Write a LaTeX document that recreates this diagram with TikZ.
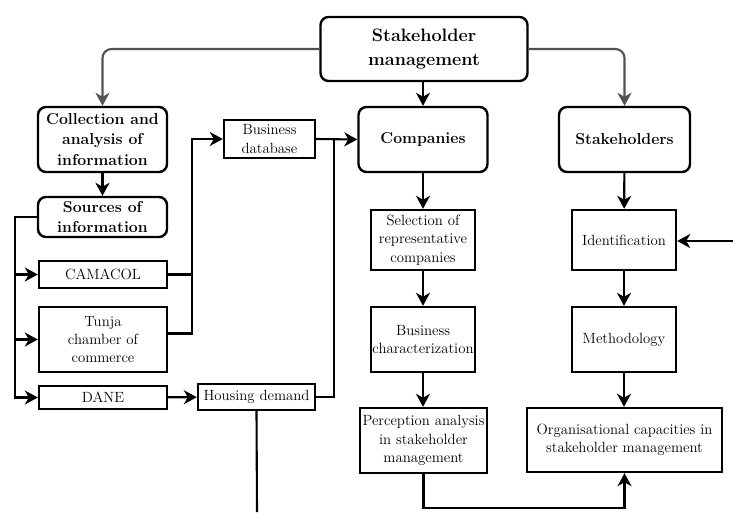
\documentclass[tikz,border=0pt]{standalone}
\usepackage{fontspec}
\usepackage{tikz}
\usetikzlibrary{arrows.meta,positioning,calc}

\begin{document}
\begin{tikzpicture}[x=1pt,y=-1pt,
  box/.style={draw, line width=2.4pt, inner sep=0.3pt, align=center,
    font=\fontsize{14.8}{18.3}\selectfont},
  rbox/.style={box, rounded corners=8pt, font=\fontsize{15.8}{20.7}\selectfont\bfseries},
  conn/.style={line width=2.1pt},
  arr/.style={conn, -{Stealth[length=13pt,width=14pt,inset=4pt]}},
  grayarr/.style={arr, draw=black!68, rounded corners=9pt}]
  \useasboundingbox (0,0) rectangle (733,512);

  % Top level
  \node[rbox, minimum width=207pt, minimum height=64pt, font=\fontsize{18}{23.5}\selectfont\bfseries]
    (sm) at (424,49) {Stakeholder\\management};
  \node[rbox, minimum width=129pt, minimum height=65pt] (coll) at (102.5,139.5) {Collection and\\analysis of\\information};
  \node[rbox, minimum width=129pt, minimum height=65pt] (comp) at (423,139.5) {Companies};
  \node[rbox, minimum width=131pt, minimum height=65pt] (stk) at (624.5,139.5) {Stakeholders};

  % Sources column
  \node[rbox, minimum width=129pt, minimum height=40pt] (src) at (102.5,217) {Sources of\\information};
  \node[box, minimum width=128pt, minimum height=27pt] (cam) at (103,274.5) {CAMACOL};
  \node[box, minimum width=128pt, minimum height=65pt] (tunja) at (103,339.5) {Tunja\\chamber of\\commerce};
  \node[box, minimum width=128pt, minimum height=23pt] (dane) at (103,397.5) {DANE};
  \node[box, minimum width=91pt, minimum height=38pt] (bdb) at (269.5,139) {Business\\database};
  \node[box, minimum width=117pt, minimum height=26pt] (hd) at (256.5,397) {Housing demand};

  % Companies column
  \node[box, minimum width=104pt, minimum height=60pt] (sel) at (423,240) {Selection of\\representative\\companies};
  \node[box, minimum width=104pt, minimum height=65pt] (bchar) at (423,339.5) {Business\\characterization};
  \node[box, minimum width=127pt, minimum height=65pt] (perc) at (423.5,440.5) {Perception analysis\\in stakeholder\\management};

  % Stakeholders column
  \node[box, minimum width=104pt, minimum height=60pt] (ident) at (624,240) {Identification};
  \node[box, minimum width=104pt, minimum height=65pt] (meth) at (624,339.5) {Methodology};
  \node[box, minimum width=195pt, minimum height=64pt] (org) at (624.5,440) {Organisational capacities in\\stakeholder management};

  % Helper points
  \coordinate (lbus) at (15,217);
  \coordinate (vbus) at (192,139);
  \coordinate (rbus) at (334,139);
  \coordinate (hdend) at (257,512);
  \coordinate (inid) at (733,241);

  % Gray branches
  \draw[grayarr] (sm.west) -| (coll.north);
  \draw[grayarr] (sm.east) -| (stk.north);
  \draw[arr] (sm.south -| comp.north) -- (comp.north);

  % Left part
  \draw[arr] (coll) -- (src);
  \draw[arr] (src.west) -- (lbus) |- (dane.west);
  \draw[arr] (lbus |- cam.west) -- (cam.west);
  \draw[arr] (lbus |- tunja.west) -- (tunja.west);
  \draw[arr] (cam.east) -| (vbus) -- (bdb.west);
  \draw[conn] ([yshift=6pt]tunja.east) -| (vbus |- cam.east);
  \draw[arr] (dane) -- (hd);
  \draw[arr] (bdb.east) -- (comp.west);
  \draw[conn] (hd.east) -| (rbus);
  \draw[conn] (hd.south) -- (hdend);

  % Companies
  \draw[arr] (comp) -- (sel);
  \draw[arr] (sel) -- (bchar);
  \draw[arr] (bchar) -- (perc.north -| bchar.south);
  \draw[arr] (perc.south) -- ++(0,34) -| (org.south);

  % Stakeholders
  \draw[arr] (stk) -- (ident);
  \draw[arr] (inid) -- (ident.east |- inid);
  \draw[arr] (ident) -- (meth);
  \draw[arr] (meth.south) -- (org.north -| meth.south);
\end{tikzpicture}
\end{document}
